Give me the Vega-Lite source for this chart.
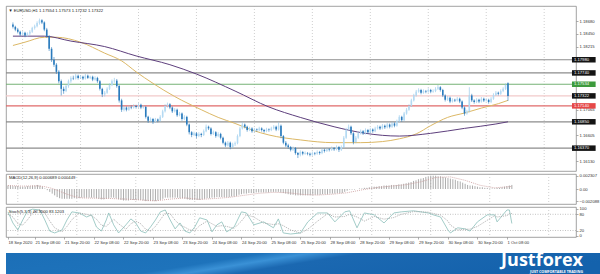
{
"$schema": "https://vega.github.io/schema/vega-lite/v6.json",
"padding": {"left": 5, "top": 5, "right": 0, "bottom": 0},
"background": "white",
"spacing": 1,
"config": {
 "view": {"stroke": "#8a8a8a", "strokeWidth": 0.8},
 "axis": {"labelFont": "Liberation Sans", "labelFontSize": 4.2, "labelColor": "#333", "tickColor": "#777", "tickSize": 2, "tickWidth": 0.6, "labelPadding": 1, "domain": false, "grid": false, "labelOverlap": false, "labelFlush": false},
 "title": {"font": "Liberation Sans", "fontSize": 4.2, "fontWeight": "normal", "color": "#222", "anchor": "start", "offset": -7, "dx": 3}
},
"datasets": {
 "grid": [{"i":4},{"i":28},{"i":52},{"i":76},{"i":100},{"i":124},{"i":148},{"i":172},{"i":196},{"i":220}],
 "lev": [{"p":1.1798,"k":"lvl"},{"p":1.1774,"k":"lvl"},{"p":1.17534,"k":"tp"},{"p":1.17322,"k":"bid"},{"p":1.1714,"k":"sl"},{"p":1.1685,"k":"lvl"},{"p":1.1637,"k":"lvl"}],
 "sl": [{"v":80},{"v":20}],
 "ma1": [{"i":0,"v":1.1824},{"i":5,"v":1.1830},{"i":13,"v":1.1839},{"i":18,"v":1.1839},{"i":28,"v":1.1830},{"i":38,"v":1.1810},{"i":45,"v":1.1796},{"i":51,"v":1.1776},{"i":58,"v":1.1755},{"i":67,"v":1.1731},{"i":78,"v":1.1707},{"i":85,"v":1.1693},{"i":92,"v":1.1682},{"i":99,"v":1.1670},{"i":106,"v":1.1661},{"i":119,"v":1.1652},{"i":133,"v":1.1647},{"i":144,"v":1.1647},{"i":153,"v":1.1649},{"i":160,"v":1.1654},{"i":167,"v":1.1663},{"i":173,"v":1.1678},{"i":180,"v":1.1693},{"i":187,"v":1.1701},{"i":194,"v":1.1710},{"i":201,"v":1.1718},{"i":205,"v":1.1724}],
 "ma2": [{"i":0,"v":1.1841},{"i":13,"v":1.1841},{"i":24,"v":1.1832},{"i":38,"v":1.1822},{"i":51,"v":1.1805},{"i":65,"v":1.1789},{"i":76,"v":1.1772},{"i":92,"v":1.1741},{"i":106,"v":1.1712},{"i":119,"v":1.1693},{"i":133,"v":1.1676},{"i":146,"v":1.1664},{"i":160,"v":1.1659},{"i":173,"v":1.1664},{"i":187,"v":1.1673},{"i":200,"v":1.1681},{"i":205,"v":1.1685}],
 "sig": [{"i":0,"s":0.0006},{"i":6,"s":0.0005},{"i":12,"s":0.00055},{"i":15,"s":0.0004},{"i":18,"s":0.0001},{"i":21,"s":-0.0004},{"i":24,"s":-0.0009},{"i":27,"s":-0.0013},{"i":30,"s":-0.00155},{"i":36,"s":-0.0016},{"i":42,"s":-0.00165},{"i":48,"s":-0.00175},{"i":54,"s":-0.0019},{"i":60,"s":-0.00205},{"i":66,"s":-0.00175},{"i":72,"s":-0.00155},{"i":78,"s":-0.0018},{"i":84,"s":-0.00165},{"i":90,"s":-0.00145},{"i":96,"s":-0.0011},{"i":102,"s":-0.00075},{"i":108,"s":-0.00058},{"i":114,"s":-0.00065},{"i":120,"s":-0.00095},{"i":126,"s":-0.00105},{"i":132,"s":-0.0009},{"i":138,"s":-0.00065},{"i":144,"s":-0.00015},{"i":150,"s":0.00025},{"i":156,"s":0.0005},{"i":162,"s":0.00075},{"i":168,"s":0.00125},{"i":174,"s":0.002},{"i":180,"s":0.0021},{"i":186,"s":0.0015},{"i":192,"s":0.00065},{"i":198,"s":0.0002},{"i":205,"s":0.000449}],
 "st": [{"i":0,"k":89,"d":80},{"i":2,"k":48,"d":70},{"i":4,"k":22,"d":45},{"i":6,"k":59,"d":40},{"i":8,"k":93,"d":60},{"i":10,"k":99,"d":85},{"i":13,"k":96,"d":97},{"i":15,"k":59,"d":85},{"i":17,"k":18,"d":55},{"i":19,"k":11,"d":30},{"i":22,"k":22,"d":15},{"i":24,"k":59,"d":35},{"i":26,"k":89,"d":60},{"i":29,"k":85,"d":85},{"i":32,"k":70,"d":80},{"i":34,"k":78,"d":75},{"i":36,"k":33,"d":62},{"i":38,"k":18,"d":40},{"i":40,"k":59,"d":35},{"i":41,"k":85,"d":45},{"i":43,"k":41,"d":62},{"i":45,"k":11,"d":45},{"i":48,"k":41,"d":25},{"i":50,"k":63,"d":45},{"i":52,"k":48,"d":55},{"i":54,"k":18,"d":45},{"i":56,"k":11,"d":25},{"i":58,"k":33,"d":18},{"i":60,"k":59,"d":35},{"i":62,"k":89,"d":60},{"i":64,"k":96,"d":85},{"i":66,"k":59,"d":82},{"i":68,"k":26,"d":58},{"i":70,"k":48,"d":40},{"i":72,"k":18,"d":32},{"i":74,"k":11,"d":22},{"i":76,"k":33,"d":20},{"i":78,"k":67,"d":38},{"i":81,"k":59,"d":55},{"i":83,"k":15,"d":45},{"i":85,"k":41,"d":35},{"i":87,"k":52,"d":38},{"i":89,"k":15,"d":35},{"i":92,"k":33,"d":28},{"i":95,"k":89,"d":55},{"i":97,"k":85,"d":78},{"i":100,"k":41,"d":70},{"i":104,"k":52,"d":48},{"i":108,"k":30,"d":42},{"i":110,"k":63,"d":45},{"i":112,"k":11,"d":38},{"i":115,"k":7,"d":22},{"i":119,"k":11,"d":10},{"i":122,"k":52,"d":25},{"i":126,"k":85,"d":55},{"i":130,"k":85,"d":82},{"i":133,"k":52,"d":70},{"i":137,"k":89,"d":72},{"i":139,"k":93,"d":80},{"i":142,"k":30,"d":70},{"i":145,"k":85,"d":55},{"i":149,"k":78,"d":72},{"i":153,"k":48,"d":62},{"i":157,"k":85,"d":68},{"i":160,"k":89,"d":80},{"i":165,"k":93,"d":90},{"i":171,"k":85,"d":88},{"i":173,"k":78,"d":83},{"i":176,"k":70,"d":77},{"i":179,"k":22,"d":55},{"i":180,"k":11,"d":40},{"i":183,"k":30,"d":22},{"i":186,"k":26,"d":25},{"i":188,"k":18,"d":25},{"i":191,"k":52,"d":35},{"i":195,"k":78,"d":58},{"i":198,"k":78,"d":75},{"i":199,"k":52,"d":70},{"i":203,"k":96,"d":75},{"i":204,"k":96,"d":82},{"i":205,"k":46,"d":83}],
 "c": [
{"i":0,"o":1.1862,"h":1.1866,"l":1.1855,"c":1.1858,"m":0.0006},
{"i":1,"o":1.1858,"h":1.1860,"l":1.1850,"c":1.1853,"m":0.0006},
{"i":2,"o":1.1853,"h":1.1856,"l":1.1846,"c":1.1849,"m":0.0005},
{"i":3,"o":1.1849,"h":1.1851,"l":1.1841,"c":1.1844,"m":0.0005},
{"i":4,"o":1.1844,"h":1.1850,"l":1.1842,"c":1.1847,"m":0.0005},
{"i":5,"o":1.1847,"h":1.1849,"l":1.1839,"c":1.1842,"m":0.0004},
{"i":6,"o":1.1842,"h":1.1848,"l":1.1840,"c":1.1846,"m":0.0004},
{"i":7,"o":1.1846,"h":1.1852,"l":1.1843,"c":1.1849,"m":0.0004},
{"i":8,"o":1.1849,"h":1.1858,"l":1.1847,"c":1.1856,"m":0.0005},
{"i":9,"o":1.1856,"h":1.1862,"l":1.1853,"c":1.1859,"m":0.0005},
{"i":10,"o":1.1859,"h":1.1868,"l":1.1857,"c":1.1865,"m":0.0006},
{"i":11,"o":1.1865,"h":1.1873,"l":1.1862,"c":1.1870,"m":0.0006},
{"i":12,"o":1.1870,"h":1.1872,"l":1.1863,"c":1.1866,"m":0.0007},
{"i":13,"o":1.1866,"h":1.1868,"l":1.1850,"c":1.1853,"m":0.0006},
{"i":14,"o":1.1853,"h":1.1856,"l":1.1838,"c":1.1841,"m":0.0004},
{"i":15,"o":1.1841,"h":1.1843,"l":1.1814,"c":1.1818,"m":0.0001},
{"i":16,"o":1.1818,"h":1.1821,"l":1.1794,"c":1.1798,"m":-0.0002},
{"i":17,"o":1.1798,"h":1.1803,"l":1.1785,"c":1.1789,"m":-0.0005},
{"i":18,"o":1.1789,"h":1.1792,"l":1.1772,"c":1.1776,"m":-0.0008},
{"i":19,"o":1.1776,"h":1.1779,"l":1.1755,"c":1.1759,"m":-0.0011},
{"i":20,"o":1.1759,"h":1.1762,"l":1.1733,"c":1.1745,"m":-0.0014},
{"i":21,"o":1.1745,"h":1.1749,"l":1.1736,"c":1.1741,"m":-0.0016},
{"i":22,"o":1.1741,"h":1.1753,"l":1.1739,"c":1.1750,"m":-0.0017},
{"i":23,"o":1.1750,"h":1.1762,"l":1.1747,"c":1.1759,"m":-0.0017},
{"i":24,"o":1.1759,"h":1.1768,"l":1.1756,"c":1.1765,"m":-0.0017},
{"i":25,"o":1.1765,"h":1.1769,"l":1.1761,"c":1.1764,"m":-0.0017},
{"i":26,"o":1.1764,"h":1.1772,"l":1.1762,"c":1.1769,"m":-0.0017},
{"i":27,"o":1.1769,"h":1.1771,"l":1.1762,"c":1.1765,"m":-0.0016},
{"i":28,"o":1.1765,"h":1.1770,"l":1.1763,"c":1.1767,"m":-0.0016},
{"i":29,"o":1.1767,"h":1.1769,"l":1.1761,"c":1.1764,"m":-0.0016},
{"i":30,"o":1.1764,"h":1.1772,"l":1.1762,"c":1.1769,"m":-0.0015},
{"i":31,"o":1.1769,"h":1.1771,"l":1.1763,"c":1.1765,"m":-0.0015},
{"i":32,"o":1.1765,"h":1.1769,"l":1.1763,"c":1.1767,"m":-0.0015},
{"i":33,"o":1.1767,"h":1.1769,"l":1.1759,"c":1.1762,"m":-0.0015},
{"i":34,"o":1.1762,"h":1.1768,"l":1.1760,"c":1.1765,"m":-0.0015},
{"i":35,"o":1.1765,"h":1.1767,"l":1.1756,"c":1.1759,"m":-0.0015},
{"i":36,"o":1.1759,"h":1.1761,"l":1.1742,"c":1.1745,"m":-0.0016},
{"i":37,"o":1.1745,"h":1.1747,"l":1.1730,"c":1.1735,"m":-0.0017},
{"i":38,"o":1.1735,"h":1.1741,"l":1.1731,"c":1.1738,"m":-0.0018},
{"i":39,"o":1.1738,"h":1.1748,"l":1.1736,"c":1.1745,"m":-0.0018},
{"i":40,"o":1.1745,"h":1.1755,"l":1.1743,"c":1.1752,"m":-0.0017},
{"i":41,"o":1.1752,"h":1.1762,"l":1.1750,"c":1.1759,"m":-0.0016},
{"i":42,"o":1.1759,"h":1.1765,"l":1.1756,"c":1.1760,"m":-0.0015},
{"i":43,"o":1.1760,"h":1.1763,"l":1.1747,"c":1.1750,"m":-0.0015},
{"i":44,"o":1.1750,"h":1.1752,"l":1.1720,"c":1.1724,"m":-0.0016},
{"i":45,"o":1.1724,"h":1.1727,"l":1.1703,"c":1.1707,"m":-0.0018},
{"i":46,"o":1.1707,"h":1.1714,"l":1.1704,"c":1.1711,"m":-0.0019},
{"i":47,"o":1.1711,"h":1.1713,"l":1.1704,"c":1.1707,"m":-0.0020},
{"i":48,"o":1.1707,"h":1.1715,"l":1.1705,"c":1.1712,"m":-0.0020},
{"i":49,"o":1.1712,"h":1.1715,"l":1.1708,"c":1.1711,"m":-0.0020},
{"i":50,"o":1.1711,"h":1.1717,"l":1.1709,"c":1.1714,"m":-0.0019},
{"i":51,"o":1.1714,"h":1.1716,"l":1.1709,"c":1.1712,"m":-0.0019},
{"i":52,"o":1.1712,"h":1.1719,"l":1.1710,"c":1.1716,"m":-0.0019},
{"i":53,"o":1.1716,"h":1.1718,"l":1.1708,"c":1.1711,"m":-0.0019},
{"i":54,"o":1.1711,"h":1.1715,"l":1.1709,"c":1.1712,"m":-0.0019},
{"i":55,"o":1.1712,"h":1.1714,"l":1.1691,"c":1.1694,"m":-0.0020},
{"i":56,"o":1.1694,"h":1.1696,"l":1.1683,"c":1.1687,"m":-0.0021},
{"i":57,"o":1.1687,"h":1.1693,"l":1.1685,"c":1.1690,"m":-0.0021},
{"i":58,"o":1.1690,"h":1.1692,"l":1.1681,"c":1.1685,"m":-0.0021},
{"i":59,"o":1.1685,"h":1.1692,"l":1.1683,"c":1.1689,"m":-0.0021},
{"i":60,"o":1.1689,"h":1.1691,"l":1.1684,"c":1.1687,"m":-0.0021},
{"i":61,"o":1.1687,"h":1.1697,"l":1.1685,"c":1.1694,"m":-0.0020},
{"i":62,"o":1.1694,"h":1.1707,"l":1.1692,"c":1.1704,"m":-0.0019},
{"i":63,"o":1.1704,"h":1.1717,"l":1.1702,"c":1.1714,"m":-0.0017},
{"i":64,"o":1.1714,"h":1.1720,"l":1.1711,"c":1.1717,"m":-0.0015},
{"i":65,"o":1.1717,"h":1.1719,"l":1.1708,"c":1.1711,"m":-0.0015},
{"i":66,"o":1.1711,"h":1.1713,"l":1.1701,"c":1.1704,"m":-0.0015},
{"i":67,"o":1.1704,"h":1.1710,"l":1.1702,"c":1.1707,"m":-0.0015},
{"i":68,"o":1.1707,"h":1.1709,"l":1.1694,"c":1.1697,"m":-0.0015},
{"i":69,"o":1.1697,"h":1.1703,"l":1.1695,"c":1.1700,"m":-0.0015},
{"i":70,"o":1.1700,"h":1.1702,"l":1.1687,"c":1.1690,"m":-0.0016},
{"i":71,"o":1.1690,"h":1.1697,"l":1.1688,"c":1.1694,"m":-0.0016},
{"i":72,"o":1.1694,"h":1.1696,"l":1.1677,"c":1.1680,"m":-0.0017},
{"i":73,"o":1.1680,"h":1.1682,"l":1.1662,"c":1.1666,"m":-0.0018},
{"i":74,"o":1.1666,"h":1.1668,"l":1.1657,"c":1.1661,"m":-0.0019},
{"i":75,"o":1.1661,"h":1.1667,"l":1.1659,"c":1.1664,"m":-0.0019},
{"i":76,"o":1.1664,"h":1.1666,"l":1.1655,"c":1.1659,"m":-0.0019},
{"i":77,"o":1.1659,"h":1.1666,"l":1.1657,"c":1.1663,"m":-0.0019},
{"i":78,"o":1.1663,"h":1.1665,"l":1.1657,"c":1.1661,"m":-0.0019},
{"i":79,"o":1.1661,"h":1.1671,"l":1.1659,"c":1.1668,"m":-0.0018},
{"i":80,"o":1.1668,"h":1.1680,"l":1.1666,"c":1.1676,"m":-0.0017},
{"i":81,"o":1.1676,"h":1.1678,"l":1.1670,"c":1.1673,"m":-0.0016},
{"i":82,"o":1.1673,"h":1.1675,"l":1.1660,"c":1.1663,"m":-0.0016},
{"i":83,"o":1.1663,"h":1.1669,"l":1.1661,"c":1.1666,"m":-0.0015},
{"i":84,"o":1.1666,"h":1.1668,"l":1.1656,"c":1.1659,"m":-0.0015},
{"i":85,"o":1.1659,"h":1.1666,"l":1.1657,"c":1.1663,"m":-0.0014},
{"i":86,"o":1.1663,"h":1.1665,"l":1.1653,"c":1.1656,"m":-0.0014},
{"i":87,"o":1.1656,"h":1.1658,"l":1.1644,"c":1.1647,"m":-0.0014},
{"i":88,"o":1.1647,"h":1.1649,"l":1.1639,"c":1.1642,"m":-0.0014},
{"i":89,"o":1.1642,"h":1.1650,"l":1.1640,"c":1.1647,"m":-0.0014},
{"i":90,"o":1.1647,"h":1.1649,"l":1.1635,"c":1.1639,"m":-0.0014},
{"i":91,"o":1.1639,"h":1.1647,"l":1.1637,"c":1.1644,"m":-0.0013},
{"i":92,"o":1.1644,"h":1.1649,"l":1.1641,"c":1.1646,"m":-0.0013},
{"i":93,"o":1.1646,"h":1.1662,"l":1.1644,"c":1.1659,"m":-0.0012},
{"i":94,"o":1.1659,"h":1.1676,"l":1.1657,"c":1.1673,"m":-0.0010},
{"i":95,"o":1.1673,"h":1.1684,"l":1.1671,"c":1.1680,"m":-0.0009},
{"i":96,"o":1.1680,"h":1.1682,"l":1.1673,"c":1.1676,"m":-0.0008},
{"i":97,"o":1.1676,"h":1.1678,"l":1.1667,"c":1.1670,"m":-0.0008},
{"i":98,"o":1.1670,"h":1.1676,"l":1.1668,"c":1.1673,"m":-0.0007},
{"i":99,"o":1.1673,"h":1.1675,"l":1.1665,"c":1.1668,"m":-0.0007},
{"i":100,"o":1.1668,"h":1.1674,"l":1.1666,"c":1.1671,"m":-0.0007},
{"i":101,"o":1.1671,"h":1.1673,"l":1.1667,"c":1.1670,"m":-0.0006},
{"i":102,"o":1.1670,"h":1.1676,"l":1.1668,"c":1.1673,"m":-0.0006},
{"i":103,"o":1.1673,"h":1.1675,"l":1.1667,"c":1.1670,"m":-0.0006},
{"i":104,"o":1.1670,"h":1.1672,"l":1.1665,"c":1.1668,"m":-0.0006},
{"i":105,"o":1.1668,"h":1.1674,"l":1.1666,"c":1.1671,"m":-0.0006},
{"i":106,"o":1.1671,"h":1.1673,"l":1.1667,"c":1.1670,"m":-0.0006},
{"i":107,"o":1.1670,"h":1.1676,"l":1.1668,"c":1.1673,"m":-0.0005},
{"i":108,"o":1.1673,"h":1.1679,"l":1.1671,"c":1.1676,"m":-0.0005},
{"i":109,"o":1.1676,"h":1.1678,"l":1.1668,"c":1.1671,"m":-0.0005},
{"i":110,"o":1.1671,"h":1.1684,"l":1.1669,"c":1.1678,"m":-0.0005},
{"i":111,"o":1.1678,"h":1.1680,"l":1.1655,"c":1.1659,"m":-0.0006},
{"i":112,"o":1.1659,"h":1.1661,"l":1.1644,"c":1.1647,"m":-0.0007},
{"i":113,"o":1.1647,"h":1.1650,"l":1.1639,"c":1.1642,"m":-0.0008},
{"i":114,"o":1.1642,"h":1.1645,"l":1.1636,"c":1.1639,"m":-0.0009},
{"i":115,"o":1.1639,"h":1.1641,"l":1.1631,"c":1.1634,"m":-0.0010},
{"i":116,"o":1.1634,"h":1.1640,"l":1.1632,"c":1.1637,"m":-0.0010},
{"i":117,"o":1.1637,"h":1.1639,"l":1.1625,"c":1.1628,"m":-0.0011},
{"i":118,"o":1.1628,"h":1.1630,"l":1.1619,"c":1.1625,"m":-0.0011},
{"i":119,"o":1.1625,"h":1.1633,"l":1.1622,"c":1.1630,"m":-0.0011},
{"i":120,"o":1.1630,"h":1.1632,"l":1.1624,"c":1.1627,"m":-0.0011},
{"i":121,"o":1.1627,"h":1.1631,"l":1.1625,"c":1.1628,"m":-0.0011},
{"i":122,"o":1.1628,"h":1.1630,"l":1.1624,"c":1.1627,"m":-0.0011},
{"i":123,"o":1.1627,"h":1.1629,"l":1.1622,"c":1.1625,"m":-0.0011},
{"i":124,"o":1.1625,"h":1.1631,"l":1.1623,"c":1.1628,"m":-0.0010},
{"i":125,"o":1.1628,"h":1.1630,"l":1.1624,"c":1.1627,"m":-0.0010},
{"i":126,"o":1.1627,"h":1.1633,"l":1.1625,"c":1.1630,"m":-0.0010},
{"i":127,"o":1.1630,"h":1.1632,"l":1.1625,"c":1.1628,"m":-0.0010},
{"i":128,"o":1.1628,"h":1.1637,"l":1.1626,"c":1.1634,"m":-0.0009},
{"i":129,"o":1.1634,"h":1.1636,"l":1.1629,"c":1.1632,"m":-0.0009},
{"i":130,"o":1.1632,"h":1.1638,"l":1.1630,"c":1.1635,"m":-0.0009},
{"i":131,"o":1.1635,"h":1.1637,"l":1.1631,"c":1.1634,"m":-0.0008},
{"i":132,"o":1.1634,"h":1.1640,"l":1.1632,"c":1.1637,"m":-0.0008},
{"i":133,"o":1.1637,"h":1.1639,"l":1.1632,"c":1.1635,"m":-0.0008},
{"i":134,"o":1.1635,"h":1.1642,"l":1.1633,"c":1.1639,"m":-0.0007},
{"i":135,"o":1.1639,"h":1.1641,"l":1.1630,"c":1.1634,"m":-0.0007},
{"i":136,"o":1.1634,"h":1.1642,"l":1.1632,"c":1.1639,"m":-0.0007},
{"i":137,"o":1.1639,"h":1.1659,"l":1.1637,"c":1.1656,"m":-0.0005},
{"i":138,"o":1.1656,"h":1.1674,"l":1.1654,"c":1.1671,"m":-0.0003},
{"i":139,"o":1.1671,"h":1.1680,"l":1.1669,"c":1.1676,"m":-0.0001},
{"i":140,"o":1.1676,"h":1.1678,"l":1.1661,"c":1.1664,"m":-0.0001},
{"i":141,"o":1.1664,"h":1.1666,"l":1.1644,"c":1.1648,"m":-0.0001},
{"i":142,"o":1.1648,"h":1.1659,"l":1.1646,"c":1.1656,"m":0.0},
{"i":143,"o":1.1656,"h":1.1667,"l":1.1654,"c":1.1664,"m":0.0001},
{"i":144,"o":1.1664,"h":1.1671,"l":1.1662,"c":1.1668,"m":0.0001},
{"i":145,"o":1.1668,"h":1.1670,"l":1.1661,"c":1.1664,"m":0.0002},
{"i":146,"o":1.1664,"h":1.1673,"l":1.1662,"c":1.1670,"m":0.0002},
{"i":147,"o":1.1670,"h":1.1672,"l":1.1663,"c":1.1666,"m":0.0003},
{"i":148,"o":1.1666,"h":1.1674,"l":1.1664,"c":1.1671,"m":0.0003},
{"i":149,"o":1.1671,"h":1.1673,"l":1.1665,"c":1.1668,"m":0.0004},
{"i":150,"o":1.1668,"h":1.1676,"l":1.1666,"c":1.1673,"m":0.0004},
{"i":151,"o":1.1673,"h":1.1679,"l":1.1671,"c":1.1676,"m":0.0005},
{"i":152,"o":1.1676,"h":1.1678,"l":1.1670,"c":1.1673,"m":0.0005},
{"i":153,"o":1.1673,"h":1.1681,"l":1.1671,"c":1.1678,"m":0.0006},
{"i":154,"o":1.1678,"h":1.1680,"l":1.1672,"c":1.1675,"m":0.0006},
{"i":155,"o":1.1675,"h":1.1683,"l":1.1673,"c":1.1680,"m":0.0006},
{"i":156,"o":1.1680,"h":1.1682,"l":1.1673,"c":1.1676,"m":0.0007},
{"i":157,"o":1.1676,"h":1.1685,"l":1.1674,"c":1.1682,"m":0.0007},
{"i":158,"o":1.1682,"h":1.1684,"l":1.1675,"c":1.1678,"m":0.0007},
{"i":159,"o":1.1678,"h":1.1689,"l":1.1676,"c":1.1686,"m":0.0008},
{"i":160,"o":1.1686,"h":1.1697,"l":1.1684,"c":1.1694,"m":0.0008},
{"i":161,"o":1.1694,"h":1.1696,"l":1.1685,"c":1.1688,"m":0.0009},
{"i":162,"o":1.1688,"h":1.1703,"l":1.1686,"c":1.1700,"m":0.0010},
{"i":163,"o":1.1700,"h":1.1710,"l":1.1698,"c":1.1707,"m":0.0011},
{"i":164,"o":1.1707,"h":1.1717,"l":1.1705,"c":1.1714,"m":0.0012},
{"i":165,"o":1.1714,"h":1.1727,"l":1.1712,"c":1.1724,"m":0.0014},
{"i":166,"o":1.1724,"h":1.1736,"l":1.1722,"c":1.1733,"m":0.0015},
{"i":167,"o":1.1733,"h":1.1743,"l":1.1731,"c":1.1740,"m":0.0017},
{"i":168,"o":1.1740,"h":1.1746,"l":1.1738,"c":1.1743,"m":0.0018},
{"i":169,"o":1.1743,"h":1.1745,"l":1.1735,"c":1.1738,"m":0.0019},
{"i":170,"o":1.1738,"h":1.1744,"l":1.1736,"c":1.1741,"m":0.0021},
{"i":171,"o":1.1741,"h":1.1743,"l":1.1737,"c":1.1740,"m":0.0022},
{"i":172,"o":1.1740,"h":1.1746,"l":1.1738,"c":1.1743,"m":0.0023},
{"i":173,"o":1.1743,"h":1.1745,"l":1.1737,"c":1.1740,"m":0.0023},
{"i":174,"o":1.1740,"h":1.1744,"l":1.1738,"c":1.1741,"m":0.0023},
{"i":175,"o":1.1741,"h":1.1748,"l":1.1739,"c":1.1745,"m":0.0022},
{"i":176,"o":1.1745,"h":1.1752,"l":1.1743,"c":1.1748,"m":0.0022},
{"i":177,"o":1.1748,"h":1.1750,"l":1.1740,"c":1.1743,"m":0.0021},
{"i":178,"o":1.1743,"h":1.1745,"l":1.1730,"c":1.1733,"m":0.0020},
{"i":179,"o":1.1733,"h":1.1735,"l":1.1722,"c":1.1725,"m":0.0019},
{"i":180,"o":1.1725,"h":1.1732,"l":1.1723,"c":1.1729,"m":0.0018},
{"i":181,"o":1.1729,"h":1.1731,"l":1.1719,"c":1.1722,"m":0.0017},
{"i":182,"o":1.1722,"h":1.1728,"l":1.1720,"c":1.1725,"m":0.0016},
{"i":183,"o":1.1725,"h":1.1727,"l":1.1721,"c":1.1724,"m":0.0014},
{"i":184,"o":1.1724,"h":1.1730,"l":1.1722,"c":1.1727,"m":0.0013},
{"i":185,"o":1.1727,"h":1.1729,"l":1.1719,"c":1.1722,"m":0.0011},
{"i":186,"o":1.1722,"h":1.1724,"l":1.1708,"c":1.1711,"m":0.0009},
{"i":187,"o":1.1711,"h":1.1713,"l":1.1696,"c":1.1700,"m":0.0007},
{"i":188,"o":1.1700,"h":1.1707,"l":1.1698,"c":1.1704,"m":0.0006},
{"i":189,"o":1.1704,"h":1.1748,"l":1.1702,"c":1.1733,"m":0.0006},
{"i":190,"o":1.1733,"h":1.1736,"l":1.1721,"c":1.1724,"m":0.0005},
{"i":191,"o":1.1724,"h":1.1726,"l":1.1718,"c":1.1721,"m":0.0004},
{"i":192,"o":1.1721,"h":1.1728,"l":1.1719,"c":1.1725,"m":0.0003},
{"i":193,"o":1.1725,"h":1.1727,"l":1.1719,"c":1.1722,"m":0.0003},
{"i":194,"o":1.1722,"h":1.1730,"l":1.1720,"c":1.1727,"m":0.0002},
{"i":195,"o":1.1727,"h":1.1729,"l":1.1721,"c":1.1724,"m":0.0002},
{"i":196,"o":1.1724,"h":1.1728,"l":1.1722,"c":1.1725,"m":0.0001},
{"i":197,"o":1.1725,"h":1.1727,"l":1.1718,"c":1.1721,"m":0.0001},
{"i":198,"o":1.1721,"h":1.1730,"l":1.1719,"c":1.1727,"m":0.0001},
{"i":199,"o":1.1727,"h":1.1737,"l":1.1725,"c":1.1734,"m":0.0002},
{"i":200,"o":1.1734,"h":1.1741,"l":1.1732,"c":1.1738,"m":0.0002},
{"i":201,"o":1.1738,"h":1.1740,"l":1.1733,"c":1.1736,"m":0.0003},
{"i":202,"o":1.1736,"h":1.1744,"l":1.1734,"c":1.1741,"m":0.0004},
{"i":203,"o":1.1741,"h":1.1748,"l":1.1739,"c":1.1745,"m":0.0005},
{"i":204,"o":1.1745,"h":1.1755,"l":1.1743,"c":1.1752,"m":0.0006},
{"i":205,"o":1.1755,"h":1.1757,"l":1.1723,"c":1.1732,"m":0.0007}
 ]
},
"vconcat": [
 {
  "width": 570, "height": 165,
  "title": {"text": "▼ EURUSD,H1  1.17554 1.17573 1.17232 1.17322"},
  "layer": [
   {"data": {"name": "grid"}, "mark": {"type": "rule", "strokeDash": [1, 2], "color": "#b0b0b0", "strokeWidth": 0.6},
    "encoding": {"x": {"field": "i", "type": "quantitative", "scale": {"domain": [-0.8, 231.1], "nice": false, "zero": false}, "axis": null}}},
   {"data": {"name": "lev"}, "mark": {"type": "rule", "strokeWidth": 1.2},
    "encoding": {
     "y": {"field": "p", "type": "quantitative", "scale": {"domain": [1.16045, 1.18868], "nice": false, "zero": false}, "axis": {"orient": "right", "values": [1.1868, 1.1845, 1.18215, 1.17065, 1.16605, 1.1613], "tickCount": 100, "format": ".5f", "title": null}},
     "stroke": {"field": "k", "type": "nominal", "scale": {"domain": ["lvl", "bid", "tp", "sl"], "range": ["#8c8c8c", "#f2caca", "#76b276", "#e06a6a"]}, "legend": null}}},
   {"data": {"name": "ma1"}, "mark": {"type": "line", "color": "#dcb866", "strokeWidth": 1, "interpolate": "monotone"},
    "encoding": {"x": {"field": "i", "type": "quantitative", "axis": null}, "y": {"field": "v", "type": "quantitative"}}},
   {"data": {"name": "ma2"}, "mark": {"type": "line", "color": "#5e3f7d", "strokeWidth": 1, "interpolate": "monotone"},
    "encoding": {"x": {"field": "i", "type": "quantitative", "axis": null}, "y": {"field": "v", "type": "quantitative"}}},
   {"data": {"name": "c"}, "mark": {"type": "rule", "strokeWidth": 0.6},
    "encoding": {"x": {"field": "i", "type": "quantitative", "axis": null}, "y": {"field": "l", "type": "quantitative"}, "y2": {"field": "h"},
     "color": {"condition": {"test": "datum.c >= datum.o", "value": "#8cc2e8"}, "value": "#2a7bbd"}}},
   {"data": {"name": "c"}, "mark": {"type": "bar", "width": 1.6},
    "encoding": {"x": {"field": "i", "type": "quantitative", "axis": null}, "y": {"field": "o", "type": "quantitative"}, "y2": {"field": "c"},
     "color": {"condition": {"test": "datum.c >= datum.o", "value": "#b4daf3"}, "value": "#2a7bbd"}}},
   {"data": {"name": "lev"}, "mark": {"type": "bar", "height": 5.5},
    "encoding": {"x": {"datum": 231.5, "type": "quantitative", "axis": null}, "x2": {"datum": 241.3}, "y": {"field": "p", "type": "quantitative"},
     "fill": {"field": "k", "type": "nominal", "scale": {"domain": ["lvl", "bid", "tp", "sl"], "range": ["#141414", "#141414", "#3d9b3d", "#e54848"]}, "legend": null}}},
   {"data": {"name": "lev"}, "mark": {"type": "text", "align": "left", "baseline": "middle", "color": "white", "fontSize": 4.2, "font": "Liberation Sans"},
    "encoding": {"x": {"datum": 232.3, "type": "quantitative", "axis": null}, "y": {"field": "p", "type": "quantitative"}, "text": {"field": "p", "type": "quantitative", "format": ".5f"}}}
  ]
 },
 {
  "width": 570, "height": 30,
  "title": {"text": "MACD(12,26,9) 0.000689 0.000449"},
  "layer": [
   {"data": {"name": "grid"}, "mark": {"type": "rule", "strokeDash": [1, 2], "color": "#b0b0b0", "strokeWidth": 0.6},
    "encoding": {"x": {"field": "i", "type": "quantitative", "scale": {"domain": [-0.8, 231.1], "nice": false, "zero": false}, "axis": null}}},
   {"data": {"name": "c"}, "mark": {"type": "rule", "color": "#a3a3a3", "strokeWidth": 0.9},
    "encoding": {"x": {"field": "i", "type": "quantitative", "axis": null},
     "y": {"field": "m", "type": "quantitative", "scale": {"domain": [-0.0026, 0.0026], "nice": false, "zero": false}, "axis": {"orient": "right", "values": [0.002307, 0, -0.002088], "tickCount": 100, "labelExpr": "datum.value == 0 ? '0.00' : format(datum.value, '.6f')", "title": null}},
     "y2": {"datum": 0}}},
   {"data": {"name": "sig"}, "mark": {"type": "line", "color": "#c99a9a", "strokeWidth": 0.8, "strokeDash": [1, 1]},
    "encoding": {"x": {"field": "i", "type": "quantitative", "axis": null}, "y": {"field": "s", "type": "quantitative"}}}
  ]
 },
 {
  "width": 570, "height": 30,
  "title": {"text": "Stoch(5,3,3) 46.3000 83.1203"},
  "layer": [
   {"data": {"name": "grid"}, "mark": {"type": "rule", "strokeDash": [1, 2], "color": "#b0b0b0", "strokeWidth": 0.6},
    "encoding": {"x": {"field": "i", "type": "quantitative", "scale": {"domain": [-0.8, 231.1], "nice": false, "zero": false}}}},
   {"data": {"name": "sl"}, "mark": {"type": "rule", "strokeDash": [1, 1.5], "color": "#9a9a9a", "strokeWidth": 0.6},
    "encoding": {"y": {"field": "v", "type": "quantitative"}}},
   {"data": {"name": "st"}, "mark": {"type": "line", "color": "#8cbfba", "strokeWidth": 0.8},
    "encoding": {
     "x": {"field": "i", "type": "quantitative", "axis": {"orient": "bottom", "values": [0, 11, 23, 35, 47, 59, 71, 83, 95, 107, 119, 131, 143, 155, 167, 179, 191, 203], "tickCount": 100, "labelExpr": "['18 Sep 2020','21 Sep 08:00','21 Sep 20:00','22 Sep 08:00','22 Sep 20:00','23 Sep 08:00','23 Sep 20:00','24 Sep 08:00','24 Sep 20:00','25 Sep 08:00','25 Sep 20:00','28 Sep 08:00','28 Sep 20:00','29 Sep 08:00','29 Sep 20:00','30 Sep 08:00','30 Sep 20:00','1 Oct 08:00'][indexof([0,11,23,35,47,59,71,83,95,107,119,131,143,155,167,179,191,203], datum.value)]", "labelAlign": "left", "minExtent": 12, "title": null}},
     "y": {"field": "k", "type": "quantitative", "scale": {"domain": [-4, 107], "nice": false, "zero": false}, "axis": {"orient": "right", "values": [100, 80, 20, 0], "tickCount": 100, "title": null}}}},
   {"data": {"name": "st"}, "mark": {"type": "line", "color": "#a5a5a5", "strokeWidth": 0.8, "strokeDash": [1.2, 1]},
    "encoding": {"x": {"field": "i", "type": "quantitative"}, "y": {"field": "d", "type": "quantitative"}}}
  ]
 },
 {
  "width": 595, "height": 29,
  "view": {"stroke": null},
  "title": {"text": "Justforex", "subtitle": "JUST COMFORTABLE TRADING", "anchor": "end", "offset": -21, "dx": -18, "font": "Open Sans", "fontSize": 18, "fontWeight": "bold", "color": "white", "subtitleFont": "Open Sans", "subtitleFontSize": 3.6, "subtitleFontWeight": "bold", "subtitleColor": "white", "subtitlePadding": 0.5},
  "data": {"values": [{}]},
  "mark": {"type": "rect", "fill": {"gradient": "linear", "x1": 0, "y1": 0, "x2": 1, "y2": 0.3, "stops": [{"offset": 0, "color": "#1c6fb7"}, {"offset": 0.4, "color": "#1e73bb"}, {"offset": 0.47, "color": "#3a91d6"}, {"offset": 0.55, "color": "#1b68b1"}, {"offset": 1, "color": "#1462ac"}]}},
  "encoding": {}
 }
]
}
